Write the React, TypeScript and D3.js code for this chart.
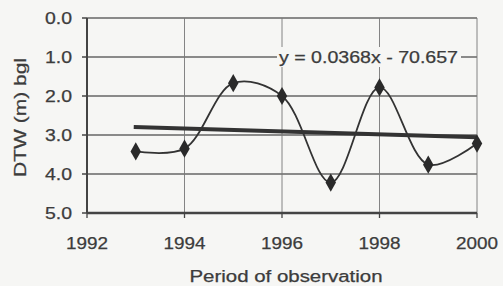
import React from "react";
import * as d3 from "d3";

const years = [1993, 1994, 1995, 1996, 1997, 1998, 1999, 2000];
const dtw = [3.42, 3.35, 1.67, 2.0, 4.22, 1.78, 3.76, 3.22];
const xTicks = [1992, 1994, 1996, 1998, 2000];
const yTicks = [0, 1, 2, 3, 4, 5];
const equationLabel = "y = 0.0368x - 70.657";
const yTitle = "DTW (m) bgl";
const xTitle = "Period of observation";

const W = 503, H = 286;
const M = { left: 87, right: 26, top: 18, bottom: 73 };

export default function App() {
  const x = d3.scaleLinear().domain([1992, 2000]).range([M.left, W - M.right]);
  const y = d3.scaleLinear().domain([0, 5]).range([M.top, H - M.bottom]);

  const pts: [number, number][] = years.map((yr, i) => [yr, dtw[i]]);
  const line = d3
    .line<[number, number]>()
    .x((d) => x(d[0]))
    .y((d) => y(d[1]))
    .curve(d3.curveCatmullRom.alpha(0.5));

  const mx = d3.mean(years)!;
  const my = d3.mean(dtw)!;
  const slope =
    d3.sum(years.map((v, i) => (v - mx) * (dtw[i] - my))) /
    d3.sum(years.map((v) => (v - mx) ** 2));
  const trend = (v: number) => my + slope * (v - mx);
  const tx0 = years[0], tx1 = years[years.length - 1];

  const font = "Liberation Sans, Arial, sans-serif";
  const txt = "#3c3c3c";
  const diamond = d3.symbol().type(d3.symbolDiamond).size(95)();
  const bg = "#f6f6f4";
  const tp = { fill: txt, stroke: txt, strokeWidth: 0.25, fontSize: 16 };

  return (
    <svg
      width={W}
      height={H}
      style={{ position: "absolute", left: 0, top: 0, display: "block" }}
      fontFamily={font}
    >
      <rect width={W} height={H} fill={bg} />
      {/* horizontal grid */}
      {yTicks.map((t) => (
        <line key={"gy" + t} x1={x(1992)} x2={x(2000)} y1={y(t)} y2={y(t)} stroke="#666" strokeWidth={1.4} />
      ))}
      {/* vertical grid */}
      {xTicks.slice(1).map((t) => (
        <line key={"gx" + t} x1={x(t)} x2={x(t)} y1={y(0)} y2={y(5)} stroke="#777" strokeWidth={0.9} />
      ))}
      {/* axes */}
      <line x1={x(1992)} x2={x(1992)} y1={y(0)} y2={y(5)} stroke="#444" strokeWidth={2} />
      <line x1={x(1992)} x2={x(2000)} y1={y(5)} y2={y(5)} stroke="#444" strokeWidth={2.4} />
      {yTicks.map((t) => (
        <line key={"ty" + t} x1={x(1992) - 5} x2={x(1992)} y1={y(t)} y2={y(t)} stroke="#444" strokeWidth={1.5} />
      ))}
      {xTicks.map((t) => (
        <line key={"tx" + t} x1={x(t)} x2={x(t)} y1={y(5)} y2={y(5) + 5} stroke="#444" strokeWidth={1.3} />
      ))}
      {/* tick labels */}
      {yTicks.map((t) => (
        <text key={"ly" + t} x={72} y={y(t)} dy="0.36em" textAnchor="end" textLength={27} lengthAdjust="spacingAndGlyphs" {...tp}>
          {t.toFixed(1)}
        </text>
      ))}
      {xTicks.map((t) => (
        <text key={"lx" + t} x={x(t)} y={249} textAnchor="middle" textLength={42} lengthAdjust="spacingAndGlyphs" {...tp}>
          {t}
        </text>
      ))}
      {/* axis titles */}
      <text
        transform={`translate(20,117.5) rotate(-90)`}
        textAnchor="middle"
        dy="0.36em"
        textLength={119}
        lengthAdjust="spacingAndGlyphs"
        {...tp}
      >
        {yTitle}
      </text>
      <text x={286} y={282} textAnchor="middle" textLength={193} lengthAdjust="spacingAndGlyphs" {...tp}>
        {xTitle}
      </text>
      {/* trend line */}
      <line x1={x(tx0) - 2} x2={x(tx1)} y1={y(trend(tx0))} y2={y(trend(tx1))} stroke="#333" strokeWidth={4} />
      {/* data line */}
      <path d={line(pts) || ""} fill="none" stroke="#333" strokeWidth={1.8} />
      {pts.map((p, i) => (
        <path key={"m" + i} d={diamond!} transform={`translate(${x(p[0])},${y(p[1])})`} fill="#2a2a2a" />
      ))}
      {/* equation label */}
      <rect x={277} y={y(1) - 10} width={184} height={20} fill={bg} />
      <text x={368.5} y={y(1)} dy="0.36em" textAnchor="middle" textLength={179} lengthAdjust="spacingAndGlyphs" {...tp}>
        {equationLabel}
      </text>
    </svg>
  );
}
